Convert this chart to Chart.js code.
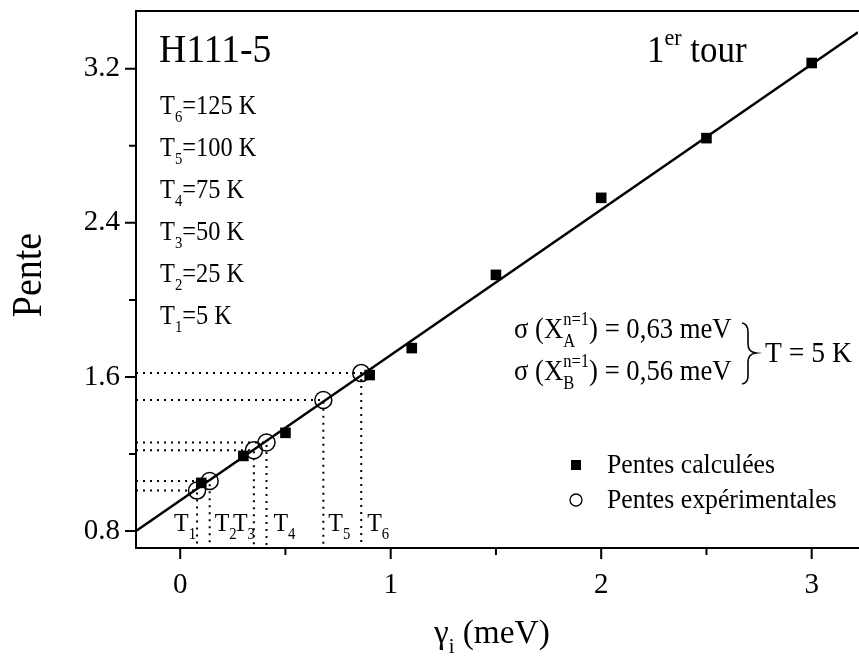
<!DOCTYPE html>
<html>
<head>
<meta charset="utf-8">
<script src="https://cdn.jsdelivr.net/npm/chart.js@4.4.0/dist/chart.umd.min.js"></script>
<style>
  html, body { margin: 0; padding: 0; background: #fff; }
  #wrap { width: 859px; height: 662px; }
</style>
</head>
<body>
<div id="wrap"><canvas id="myChart" width="859" height="662"></canvas></div>
<script>
// Pentes calculées (filled squares)
const calcX = [0.1, 0.3, 0.5, 0.9, 1.1, 1.5, 2.0, 2.5, 3.0];
const calcY = [1.05, 1.19, 1.31, 1.61, 1.75, 2.13, 2.53, 2.84, 3.23];
// Pentes expérimentales (open circles), T1 .. T6
const expX = [0.08, 0.14, 0.35, 0.41, 0.68, 0.86];
const expY = [1.01, 1.06, 1.22, 1.26, 1.48, 1.62];
const tempIdx = ['1', '2', '3', '4', '5', '6'];
const tempVal = ['5 K', '25 K', '50 K', '75 K', '100 K', '125 K'];
// linear fit
const fitX = [-0.21, 3.22];
const fitY = [0.80, 3.39];
// axes
const X_MIN = -0.21, X_MAX = 3.22;
const Y_MIN = 0.712, Y_MAX = 3.5;
const xMajor = [0, 1, 2, 3];
const xMinor = [0.5, 1.5, 2.5];
const yMajor = [0.8, 1.6, 2.4, 3.2];
const yMinor = [1.2, 2.0, 2.8];

const SERIF = '"Liberation Serif", "Times New Roman", serif';
const SQ = 0.92; // text is a bit narrow in the original

function font(size) { return size + 'px ' + SERIF; }

// draw a run of text parts: strings, or {sub, sup} objects
function rich(ctx, parts, x, y, size, sq) {
  const small = Math.round(size * 0.62);
  ctx.save();
  ctx.translate(x, y);
  ctx.scale(sq || SQ, 1);
  ctx.textBaseline = 'alphabetic';
  ctx.textAlign = 'left';
  let cx = 0;
  parts.forEach(p => {
    if (typeof p === 'string') {
      ctx.font = font(size);
      ctx.fillText(p, cx, 0);
      cx += ctx.measureText(p).width;
    } else {
      ctx.font = font(small);
      let w = 0;
      if (p.sup) { ctx.fillText(p.sup, cx, -size * 0.45); w = Math.max(w, ctx.measureText(p.sup).width); }
      if (p.sub) { ctx.fillText(p.sub, cx, size * 0.3); w = Math.max(w, ctx.measureText(p.sub).width); }
      cx += w;
    }
  });
  ctx.restore();
}

const guideSets = expX.map((x, i) => ({
  type: 'line',
  data: [{x: X_MIN, y: expY[i]}, {x: x, y: expY[i]}, {x: x, y: Y_MIN}],
  showLine: true,
  borderColor: '#000',
  borderWidth: 2,
  borderDash: [2, 5],
  pointRadius: 0,
  fill: false,
  order: 5
}));

const decor = {
  id: 'decor',
  afterDraw(chart) {
    const ctx = chart.ctx;
    const a = chart.chartArea;
    const xs = chart.scales.x, ys = chart.scales.y;
    ctx.save();
    ctx.strokeStyle = '#000';
    ctx.fillStyle = '#000';
    ctx.lineWidth = 2;
    // frame: right side runs off the picture
    ctx.beginPath();
    ctx.moveTo(chart.width, a.top);
    ctx.lineTo(a.left, a.top);
    ctx.lineTo(a.left, a.bottom);
    ctx.lineTo(chart.width, a.bottom);
    ctx.stroke();
    ctx.beginPath();
    xMajor.forEach(v => { const p = xs.getPixelForValue(v); ctx.moveTo(p, a.bottom); ctx.lineTo(p, a.bottom + 11); });
    xMinor.forEach(v => { const p = xs.getPixelForValue(v); ctx.moveTo(p, a.bottom); ctx.lineTo(p, a.bottom + 7); });
    yMajor.forEach(v => { const p = ys.getPixelForValue(v); ctx.moveTo(a.left, p); ctx.lineTo(a.left - 11, p); });
    yMinor.forEach(v => { const p = ys.getPixelForValue(v); ctx.moveTo(a.left, p); ctx.lineTo(a.left - 7, p); });
    ctx.stroke();

    // axis titles
    ctx.save();
    ctx.translate(41, 275);
    ctx.scale(1.12, 1);
    ctx.rotate(-Math.PI / 2);
    ctx.font = font(38);
    ctx.textAlign = 'center';
    ctx.textBaseline = 'alphabetic';
    ctx.fillText('Pente', 0, 0);
    ctx.restore();
    rich(ctx, ['\u03B3', {sub: 'i'}, ' (meV)'], 434, 643, 34, 0.98);

    // sample labels
    rich(ctx, ['H111-5'], 159, 62, 41);
    rich(ctx, ['1', {sup: 'er'}, ' tour'], 647, 62, 38);
    for (let i = tempIdx.length - 1; i >= 0; i--) {
      const row = tempIdx.length - 1 - i;
      rich(ctx, ['T', {sub: tempIdx[i]}, '=' + tempVal[i]], 160, 114 + row * 42, 26.5);
    }

    // T labels next to the vertical guides
    const offs = [-23, 5, -21, 7, 5, 6];
    expX.forEach((x, i) => {
      rich(ctx, ['T', {sub: tempIdx[i]}], xs.getPixelForValue(x) + offs[i], a.bottom - 17, 26);
    });

    // sigma annotation with brace
    rich(ctx, ['\u03C3 (X', {sup: 'n=1', sub: 'A'}, ') = 0,63 meV'], 514, 338, 29);
    rich(ctx, ['\u03C3 (X', {sup: 'n=1', sub: 'B'}, ') = 0,56 meV'], 514, 380, 29);
    ctx.lineWidth = 1.6;
    ctx.beginPath();
    ctx.moveTo(742, 323);
    ctx.quadraticCurveTo(748, 324, 748, 332);
    ctx.lineTo(748, 344);
    ctx.quadraticCurveTo(748, 352, 756, 353);
    ctx.quadraticCurveTo(748, 354, 748, 362);
    ctx.lineTo(748, 376);
    ctx.quadraticCurveTo(748, 383, 742, 384);
    ctx.stroke();
    rich(ctx, ['T = 5 K'], 765, 362, 30);

    // legend
    ctx.fillRect(571, 460, 10, 10);
    ctx.lineWidth = 1.3;
    ctx.beginPath();
    ctx.arc(576, 500, 6, 0, Math.PI * 2);
    ctx.stroke();
    rich(ctx, ['Pentes calculées'], 607, 473, 28);
    rich(ctx, ['Pentes expérimentales'], 607, 508, 28);
    ctx.restore();
  }
};

const ctx = document.getElementById('myChart');

new Chart(ctx, {
  type: 'scatter',
  data: {
    datasets: [
      {
        label: 'Pentes expérimentales',
        data: expX.map((x, i) => ({x: x, y: expY[i]})),
        pointStyle: 'circle',
        pointRadius: 8.5,
        backgroundColor: 'rgba(0,0,0,0)',
        borderColor: '#000',
        borderWidth: 1.5,
        order: 0
      },
      {
        label: 'Pentes calculées',
        data: calcX.map((x, i) => ({x: x, y: calcY[i]})),
        pointStyle: 'rect',
        pointRadius: 7.5,
        backgroundColor: '#000',
        borderColor: '#000',
        borderWidth: 0,
        order: 1
      },
      {
        type: 'line',
        label: 'fit',
        data: fitX.map((x, i) => ({x: x, y: fitY[i]})),
        showLine: true,
        borderColor: '#000',
        borderWidth: 2.5,
        pointRadius: 0,
        fill: false,
        order: 3
      },
      ...guideSets
    ]
  },
  options: {
    responsive: false,
    animation: false,
    devicePixelRatio: 1,
    layout: { autoPadding: false, padding: { top: 11, right: 1, left: 0, bottom: 0 } },
    plugins: { legend: { display: false }, tooltip: { enabled: false } },
    scales: {
      x: {
        type: 'linear',
        min: X_MIN,
        max: X_MAX,
        afterFit: s => { s.height = 114; s.paddingLeft = 0; s.paddingRight = 0; },
        afterBuildTicks: s => { s.ticks = xMajor.map(v => ({value: v})); },
        border: { display: false },
        grid: { drawOnChartArea: false, drawTicks: true, tickLength: 12, color: 'rgba(0,0,0,0)' },
        ticks: {
          color: '#000',
          font: { family: SERIF, size: 29 },
          padding: 8,
          maxRotation: 0,
          callback: v => String(v)
        }
      },
      y: {
        type: 'linear',
        min: Y_MIN,
        max: Y_MAX,
        afterFit: s => { s.width = 136; s.paddingTop = 0; s.paddingBottom = 0; },
        afterBuildTicks: s => { s.ticks = yMajor.map(v => ({value: v})); },
        border: { display: false },
        grid: { drawOnChartArea: false, drawTicks: true, tickLength: 12, color: 'rgba(0,0,0,0)' },
        ticks: {
          color: '#000',
          font: { family: SERIF, size: 29 },
          padding: 4,
          callback: v => v.toFixed(1)
        }
      }
    }
  },
  plugins: [decor]
});
</script>
</body>
</html>
